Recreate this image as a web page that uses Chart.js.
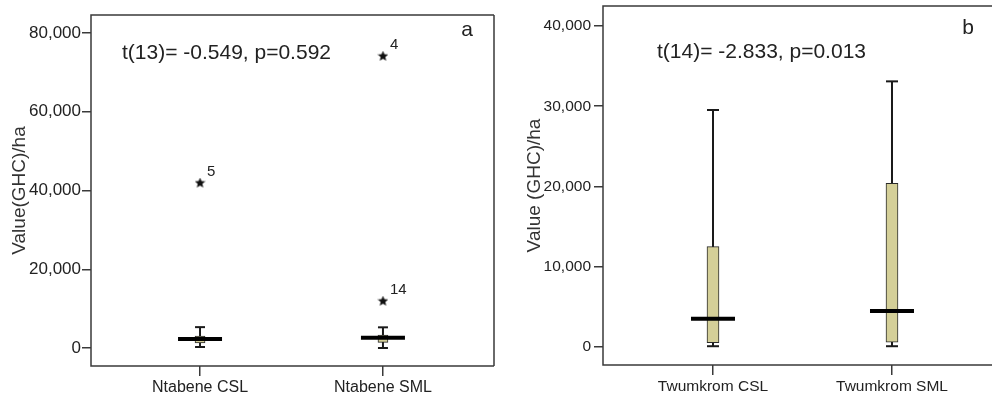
<!DOCTYPE html>
<html>
<head>
<meta charset="utf-8">
<script src="https://cdn.jsdelivr.net/npm/chart.js@4.4.0/dist/chart.umd.min.js"></script>
<style>
  body { margin: 0; background: #fff; }
  #wrap { position: relative; width: 992px; height: 396px; overflow: hidden; }
  #chart-a { position: absolute; left: 0; top: 0; }
  #chart-b { position: absolute; left: 500px; top: 0; }
</style>
</head>
<body>
<div id="wrap">
  <canvas id="chart-a" width="500" height="396"></canvas>
  <canvas id="chart-b" width="492" height="396"></canvas>
</div>
<script>
// panel a - Ntabene
const categoriesA = ["Ntabene CSL", "Ntabene SML"]
const lowA = [250, 0]
const q1A = [1270, 1450]
const medianA = [2280, 2600]
const q3A = [3050, 3300]
const highA = [5300, 5250]
const outlierCatA = [1, 2, 2]
const outlierValA = [41900, 74100, 11900]
const outlierIdA = ["5", "4", "14"]
const yTicksA = [0, 20000, 40000, 60000, 80000]

// panel b - Twumkrom
const categoriesB = ["Twumkrom CSL", "Twumkrom SML"]
const lowB = [100, 100]
const q1B = [540, 590]
const medianB = [3530, 4490]
const q3B = [12500, 20400]
const highB = [29530, 33100]
const outlierCatB = []
const outlierValB = []
const outlierIdB = []
const yTicksB = [0, 10000, 20000, 30000, 40000]

const FONT = "'Liberation Sans', Arial, sans-serif"
const INK = "#1a1a1a"
const BOX_FILL = "#d4cf98"

function makeStar(size){
    const c = document.createElement("canvas")
    c.width = size; c.height = size
    const ctx = c.getContext("2d")
    const r = size / 2, ri = r * 0.45
    ctx.beginPath()
    for(let i = 0; i < 10; i++){
        const rad = i % 2 ? ri : r
        const ang = -Math.PI / 2 + i * Math.PI / 5
        ctx.lineTo(r + rad * Math.cos(ang), r + rad * Math.sin(ang))
    }
    ctx.closePath()
    ctx.fillStyle = "#111"
    ctx.fill()
    return c
}
const starImg = makeStar(11)

// frame round the plot area (SPSS style)
const framePlugin = {
    id: "frame",
    beforeDatasetsDraw(chart, args, opts){
        const {left, top, right, bottom} = chart.chartArea
        const ctx = chart.ctx
        ctx.save()
        ctx.strokeStyle = "#3a3a3a"
        ctx.lineWidth = 1.5
        ctx.beginPath()
        ctx.moveTo(right, top); ctx.lineTo(left, top); ctx.lineTo(left, bottom); ctx.lineTo(right, bottom)
        if(opts.rightSide) { ctx.moveTo(right, top); ctx.lineTo(right, bottom) }
        ctx.stroke()
        ctx.restore()
    }
}

// test result, panel letter and outlier case numbers
const notesPlugin = {
    id: "notes",
    afterDatasetsDraw(chart, args, opts){
        const ctx = chart.ctx
        const area = chart.chartArea
        ctx.save()
        ctx.fillStyle = "#222"
        ctx.textBaseline = "middle"
        ctx.font = "21px " + FONT
        ctx.textAlign = "left"
        ctx.fillText(opts.text, area.left + opts.tx, area.top + opts.ty)
        ctx.textAlign = "center"
        ctx.fillText(opts.letter, area.right - opts.lx, area.top + opts.ly)

        ctx.font = "15px " + FONT
        ctx.textAlign = "left"
        chart.data.datasets.forEach((ds, di) => {
            if(ds.label !== "outliers") return
            chart.getDatasetMeta(di).data.forEach((pt, i) => {
                ctx.fillText(ds.ids[i], pt.x + 7, pt.y - 11)
            })
        })
        ctx.restore()
    }
}

function noPadding(scale){
    scale.paddingTop = 0
    scale.paddingBottom = 0
    scale.paddingLeft = 0
    scale.paddingRight = 0
}

function buildPanel(canvasId, cfg){
    const datasets = []
    cfg.cats.forEach((c, i) => {
        datasets.push({
            type: "line",
            label: "whisker",
            data: [{x: i + 1, y: cfg.low[i]}, {x: i + 1, y: cfg.high[i]}],
            borderColor: INK,
            borderWidth: 2,
            pointRadius: 0,
            order: 6
        })
    })
    datasets.push({
        type: "scatter",
        label: "caps",
        data: cfg.cats.flatMap((c, i) => [{x: i + 1, y: cfg.low[i]}, {x: i + 1, y: cfg.high[i]}]),
        pointStyle: "line",
        pointRadius: cfg.capHalf,
        pointBorderWidth: 2,
        pointBorderColor: INK,
        order: 5
    })
    datasets.push({
        type: "bar",
        label: "box",
        data: cfg.cats.map((c, i) => ({x: i + 1, y: [cfg.q1[i], cfg.q3[i]]})),
        backgroundColor: BOX_FILL,
        borderColor: "#2a2a2a",
        borderWidth: 1,
        borderSkipped: false,
        barThickness: cfg.boxWidth,
        order: 3
    })
    datasets.push({
        type: "scatter",
        label: "median",
        data: cfg.cats.map((c, i) => ({x: i + 1, y: cfg.median[i]})),
        pointStyle: "line",
        pointRadius: 22,
        pointBorderWidth: 4,
        pointBorderColor: "#000",
        order: 2
    })
    datasets.push({
        type: "scatter",
        label: "outliers",
        ids: cfg.outIds,
        data: cfg.outCats.map((c, i) => ({x: c, y: cfg.outVals[i]})),
        pointStyle: starImg,
        pointRadius: 6,
        order: 1
    })

    return new Chart(document.getElementById(canvasId), {
        type: "bar",
        data: { datasets: datasets },
        plugins: [framePlugin, notesPlugin],
        options: {
            responsive: false,
            animation: false,
            events: [],
            layout: { padding: cfg.padding, autoPadding: false },
            plugins: {
                legend: { display: false },
                tooltip: { enabled: false },
                frame: { rightSide: cfg.rightSide },
                notes: cfg.notes
            },
            scales: {
                x: {
                    type: "linear",
                    min: cfg.xMin,
                    max: cfg.xMax,
                    offset: false,
                    border: { display: false },
                    grid: { offset: false, drawOnChartArea: false, drawTicks: true, tickLength: 10, color: "#3a3a3a", lineWidth: 1.5 },
                    afterBuildTicks: scale => { scale.ticks = cfg.cats.map((c, i) => ({value: i + 1})) },
                    afterFit: scale => { scale.height = cfg.xHeight; noPadding(scale) },
                    ticks: {
                        autoSkip: false,
                        maxRotation: 0,
                        padding: 2,
                        color: "#222",
                        font: { family: FONT, size: cfg.xFont },
                        callback: v => cfg.cats[v - 1]
                    }
                },
                y: {
                    min: cfg.yMin,
                    max: cfg.yMax,
                    border: { display: false },
                    grid: { drawOnChartArea: false, drawTicks: true, tickLength: 9, color: "#3a3a3a", lineWidth: 1.5 },
                    afterBuildTicks: scale => { scale.ticks = cfg.yTicks.map(v => ({value: v})) },
                    afterFit: scale => { scale.width = cfg.yWidth; noPadding(scale) },
                    ticks: {
                        padding: cfg.yTickPad,
                        color: "#222",
                        font: { family: FONT, size: cfg.yFont },
                        callback: v => v.toLocaleString("en-US")
                    },
                    title: {
                        display: true,
                        text: cfg.yTitle,
                        color: "#333",
                        padding: { top: cfg.titlePad, bottom: 0 },
                        font: { family: FONT, size: 19 }
                    }
                }
            }
        }
    })
}

buildPanel("chart-a", {
    cats: categoriesA, low: lowA, q1: q1A, median: medianA, q3: q3A, high: highA,
    outCats: outlierCatA, outVals: outlierValA, outIds: outlierIdA, yTicks: yTicksA,
    yMin: -4570, yMax: 84570, xMin: 0.404, xMax: 2.607,
    padding: { top: 15, right: 6, left: 0, bottom: 0 },
    yWidth: 91, xHeight: 30, yTickPad: 1, titlePad: 8, yFont: 17, xFont: 16,
    boxWidth: 10, capHalf: 5, rightSide: true,
    yTitle: "Value(GHC)/ha",
    notes: { text: "t(13)= -0.549, p=0.592", tx: 31, ty: 38, letter: "a", lx: 27, ly: 15 }
})

buildPanel("chart-b", {
    cats: categoriesB, low: lowB, q1: q1B, median: medianB, q3: q3B, high: highB,
    outCats: outlierCatB, outVals: outlierValB, outIds: outlierIdB, yTicks: yTicksB,
    yMin: -2240, yMax: 42490, xMin: 0.3855, xMax: 2.5587,
    padding: { top: 6, right: 0, left: 0, bottom: 0 },
    yWidth: 103, xHeight: 31, yTickPad: 3, titlePad: 23, yFont: 15.5, xFont: 15.5,
    boxWidth: 12, capHalf: 6, rightSide: false,
    yTitle: "Value (GHC)/ha",
    notes: { text: "t(14)= -2.833, p=0.013", tx: 54, ty: 46, letter: "b", lx: 24, ly: 22 }
})
</script>
</body>
</html>
